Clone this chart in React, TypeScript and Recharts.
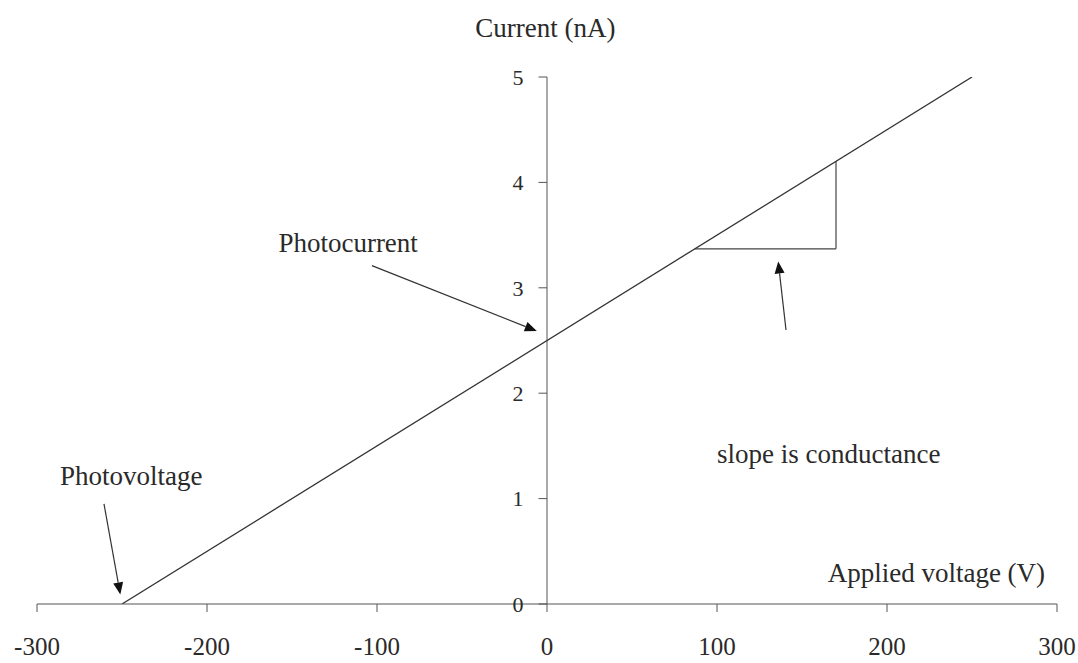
import React from 'react';
import { LineChart, Line, XAxis, YAxis, ReferenceLine, ReferenceDot } from 'recharts';

const lineData = [
  { v: -250, i: 0 },
  { v: 250, i: 5 },
];
const xTicks = [-300, -200, -100, 0, 100, 200, 300];
const yTicks = [0, 1, 2, 3, 4, 5];
const yTickLen = 5;

const triangleSegs = [
  [{ x: 87, y: 3.37 }, { x: 170, y: 3.37 }],
  [{ x: 170, y: 3.37 }, { x: 170, y: 4.2 }],
];

const arrows = [
  { from: { x: -103, y: 3.21 }, to: { x: -6, y: 2.59 } },
  { from: { x: -260.6, y: 0.95 }, to: { x: -251, y: 0.09 } },
  { from: { x: 140.6, y: 2.6 }, to: { x: 136, y: 3.25 } },
];

const notes = [
  { text: 'Current (nA)', x: -1, y: 5.384, anchor: 'middle' },
  { text: 'Applied voltage (V)', x: 293, y: 0.21, anchor: 'end' },
  { text: 'Photocurrent', x: -158, y: 3.336, anchor: 'start' },
  { text: 'Photovoltage', x: -286.5, y: 1.128, anchor: 'start' },
  { text: 'slope is conductance', x: 100, y: 1.34, anchor: 'start' },
];

const FONT = '"Liberation Serif", "Times New Roman", serif';
const TEXT = '#2a2a2a';
const AXIS = '#555';

const ArrowShape = (p: any) => {
  const { x1, y1, x2, y2 } = p;
  const dx = x2 - x1;
  const dy = y2 - y1;
  const len = Math.sqrt(dx * dx + dy * dy) || 1;
  const ux = dx / len;
  const uy = dy / len;
  const hl = 12;
  const hw = 5;
  const bx = x2 - ux * hl;
  const by = y2 - uy * hl;
  const pts = `${x2},${y2} ${bx - uy * hw},${by + ux * hw} ${bx + uy * hw},${by - ux * hw}`;
  return (
    <g>
      <line x1={x1} y1={y1} x2={bx} y2={by} stroke="#333" strokeWidth={1.2} />
      <polygon points={pts} fill="#111" />
    </g>
  );
};

export default function App() {
  return (
    <div style={{ width: 1078, height: 663, background: '#fff' }}>
      <style>{'body{margin:0;background:#fff}'}</style>
      <LineChart
        width={1078}
        height={663}
        data={lineData}
        margin={{ top: 77, right: 21, left: 37, bottom: 0 }}
      >
        <XAxis
          dataKey="v"
          type="number"
          domain={[-300, 300]}
          ticks={xTicks}
          allowDataOverflow
          height={59}
          tickSize={8}
          tickMargin={25}
          stroke={AXIS}
          tick={{ fill: TEXT, fontSize: 25, fontFamily: FONT }}
        />
        <YAxis type="number" domain={[0, 5]} hide width={0} allowDataOverflow />
        <ReferenceLine
          segment={[{ x: 0, y: 0 }, { x: 0, y: 5 }]}
          stroke={AXIS}
          strokeWidth={1}
          ifOverflow="visible"
        />
        {yTicks.map((t) => (
          <ReferenceLine
            key={`yt${t}`}
            segment={[{ x: -yTickLen, y: t }, { x: 0, y: t }]}
            stroke={AXIS}
            ifOverflow="visible"
            label={{
              value: String(t),
              position: 'left',
              offset: 15,
              fill: TEXT,
              fontSize: 22,
              fontFamily: FONT,
            }}
          />
        ))}
        {triangleSegs.map((s, k) => (
          <ReferenceLine
            key={`tri${k}`}
            segment={s}
            stroke="#444"
            strokeWidth={1.2}
            ifOverflow="visible"
          />
        ))}
        {arrows.map((a, k) => (
          <ReferenceLine
            key={`ar${k}`}
            segment={[a.from, a.to]}
            ifOverflow="visible"
            shape={ArrowShape}
          />
        ))}
        <Line
          dataKey="i"
          type="linear"
          stroke="#333"
          strokeWidth={1.3}
          dot={false}
          isAnimationActive={false}
        />
        {notes.map((n, k) => (
          <ReferenceDot
            key={`n${k}`}
            x={n.x}
            y={n.y}
            r={0}
            ifOverflow="visible"
            shape={(p: any) => (
              <text
                x={p.cx}
                y={p.cy}
                textAnchor={n.anchor as any}
                fill={TEXT}
                fontSize={27}
                fontFamily={FONT}
              >
                {n.text}
              </text>
            )}
          />
        ))}
      </LineChart>
    </div>
  );
}
